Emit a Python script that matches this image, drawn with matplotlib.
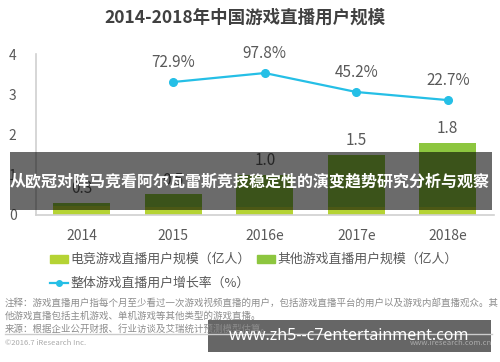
import matplotlib
matplotlib.use('Agg')
import matplotlib.pyplot as plt
from matplotlib.patches import Rectangle
from matplotlib.lines import Line2D

plt.rcParams['font.family'] = ['Noto Sans CJK SC', 'DejaVu Sans']

years = ['2014', '2015', '2016e', '2017e', '2018e']
esports_users = [0.22, 0.2, 0.2, 0.2, 0.2]
total_users = [0.3, 0.52, 1.0, 1.5, 1.8]
other_users = [t - e for t, e in zip(total_users, esports_users)]
total_labels = ['0.3', '0.5', '1.0', '1.5', '1.8']
growth_years = ['2015', '2016e', '2017e', '2018e']
growth_rate = [72.9, 97.8, 45.2, 22.7]

c_esports = '#b5d334'
c_other = '#8dc63f'
c_line = '#25bfe6'
c_text = '#595959'

fig = plt.figure(figsize=(5, 3.62), dpi=100)
W, H = 500, 362

def fx(px):
    return px / W

def fy(py):
    return 1 - py / H

ax = fig.add_axes([fx(36), fy(215), fx(457.5), 161 / H])
x = list(range(len(years)))
ax.bar(x, esports_users, width=0.62, color=c_esports)
ax.bar(x, other_users, width=0.62, bottom=esports_users, color=c_other)
for xi, t, lab in zip(x, total_users, total_labels):
    ax.annotate(lab, (xi, t), xytext=(0, 4), textcoords='offset points',
                ha='center', va='bottom', fontsize=11, color=c_text)

ax.set_xlim(-0.5, 4.5)
ax.set_ylim(0, 4)
ax.set_yticks([0, 1, 2, 3, 4])
ax.set_xticks(x)
ax.set_xticklabels(years)
ax.tick_params(axis='x', length=0, pad=10, labelsize=10, labelcolor=c_text)
ax.tick_params(axis='y', length=0, pad=14, labelsize=10, labelcolor=c_text)
for s in ['top', 'right']:
    ax.spines[s].set_visible(False)
ax.spines['left'].set_color('#d0d0d0')
ax.spines['bottom'].set_color('#d0d0d0')
ax.spines['left'].set_linewidth(1.2)
ax.spines['bottom'].set_linewidth(1.2)

ax2 = ax.twinx()
gx = [years.index(g) for g in growth_years]
ax2.plot(gx, growth_rate, color=c_line, lw=1.6, marker='o', ms=5.5)
for xi, g in zip(gx, growth_rate):
    ax2.annotate(f'{g}%', (xi, g), xytext=(0, 8), textcoords='offset points',
                 ha='center', va='bottom', fontsize=11, color=c_text)
ax2.set_ylim(-296, 150.6)
ax2.axis('off')

fig.text(0.49, fy(18), '2014-2018年中国游戏直播用户规模', ha='center', va='center',
         fontsize=12.6, fontweight='bold', color='#404040')

# legend
fig.add_artist(Rectangle((fx(50), fy(263)), fx(18), 8 / H, color=c_esports, transform=fig.transFigure))
fig.text(fx(70), fy(259), '电竞游戏直播用户规模（亿人）', va='center', fontsize=9.3, color=c_text)
fig.add_artist(Rectangle((fx(257), fy(263)), fx(18), 8 / H, color=c_other, transform=fig.transFigure))
fig.text(fx(277), fy(259), '其他游戏直播用户规模（亿人）', va='center', fontsize=9.3, color=c_text)
fig.add_artist(Line2D([fx(50), fx(68)], [fy(283), fy(283)], color=c_line, lw=1.6,
                      transform=fig.transFigure))
fig.add_artist(Line2D([fx(59)], [fy(283)], color=c_line, marker='o', ms=4, transform=fig.transFigure))
fig.text(fx(70), fy(283), '整体游戏直播用户增长率（%）', va='center', fontsize=9.3, color=c_text)

# notes
note_c = '#8c8c8c'
fig.text(fx(5), fy(303), '注释：游戏直播用户指每个月至少看过一次游戏视频直播的用户，包括游戏直播平台的用户以及游戏内部直播观众。其',
         va='center', fontsize=6.8, color=note_c)
fig.text(fx(5), fy(316), '他游戏直播包括主机游戏、单机游戏等其他类型的游戏直播。', va='center', fontsize=6.8, color=note_c)
fig.text(fx(5), fy(329), '来源：根据企业公开财报、行业访谈及艾瑞统计预测模型估算。', va='center', fontsize=6.8, color=note_c)
fig.add_artist(Line2D([fx(5), fx(492)], [fy(334), fy(334)], color='#cccccc', lw=1, transform=fig.transFigure))
fig.text(fx(5), fy(343), '©2016.7 iResearch Inc.', va='center', fontsize=5.5, color='#aaaaaa')
fig.text(fx(492), fy(343), 'www.iresearch.com.cn', va='center', ha='right', fontsize=5.5, color='#aaaaaa')

# overlays
fig.add_artist(Rectangle((fx(10), fy(210)), fx(482), 58 / H, color='black', alpha=0.58,
                         transform=fig.transFigure, lw=0))
fig.text(fx(250), fy(181), '从欧冠对阵马竞看阿尔瓦雷斯竞技稳定性的演变趋势研究分析与观察',
         ha='center', va='center', fontsize=11.5, fontweight='bold', color='white')
fig.add_artist(Rectangle((fx(208), fy(352)), fx(283), 32 / H, color='black', alpha=0.6,
                         transform=fig.transFigure, lw=0))
fig.text(fx(349), fy(336), 'www.zh5--c7entertainment.com', ha='center', va='center',
         fontsize=11.5, fontweight='bold', color='white', family='Noto Sans')

fig.savefig('out.png', dpi=100)
